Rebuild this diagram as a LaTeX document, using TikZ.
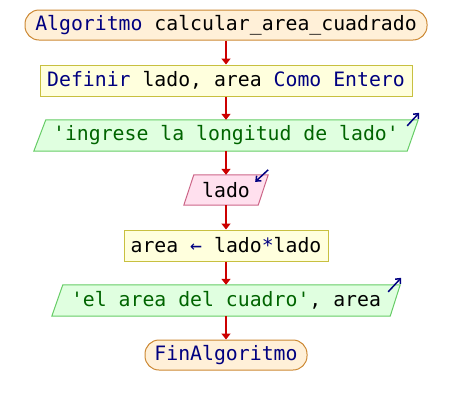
\documentclass[tikz,border=0pt]{standalone}
\usepackage{fontspec}
\newfontfamily\codefont{DejaVu Sans Mono}
\usetikzlibrary{arrows.meta,backgrounds}

\definecolor{kw}{HTML}{000080}
\definecolor{strc}{HTML}{006400}
\definecolor{termfill}{HTML}{FFF0D8}
\definecolor{termline}{HTML}{CC8833}
\definecolor{procfill}{HTML}{FFFFDD}
\definecolor{procline}{HTML}{C8C040}
\definecolor{outfill}{HTML}{E0FFE0}
\definecolor{outline}{HTML}{66CC66}
\definecolor{infill}{HTML}{FFE0EE}
\definecolor{inline}{HTML}{CC6688}
\definecolor{flow}{HTML}{CC0000}

\tikzset{
  base/.style={inner sep=0pt, font=\codefont\fontsize{19.8}{22}\selectfont, anchor=center},
  term/.style={base, rectangle, rounded corners=14pt, draw=termline, fill=termfill, line width=1pt},
  proc/.style={base, rectangle, draw=procline, fill=procfill, line width=1pt},
  iobox/.style={base, rectangle},
  flowarrow/.style={draw=flow, line width=1.8pt, -{Triangle[length=6pt,width=9pt]}},
  ioarrow/.style={draw=kw, line width=1.5pt, -{Straight Barb[length=4pt,width=7pt]}},
  outshape/.style={draw=outline, fill=outfill, line width=1pt},
  inshape/.style={draw=inline, fill=infill, line width=1pt},
}

\begin{document}
\begin{tikzpicture}[x=1pt,y=-1pt]
  \useasboundingbox (0,0) rectangle (452,405);

  % flowchart steps
  \node[term, minimum width=402pt, minimum height=30pt] (n1) at (226,25)
    {\textcolor{kw}{Algoritmo} calcular\_area\_cuadrado};
  \node[proc, minimum width=372pt, minimum height=31pt] (n2) at (226,80.5)
    {\textcolor{kw}{Definir} lado, area \textcolor{kw}{Como Entero}};
  \node[iobox, minimum width=384pt, minimum height=31pt] (n3) at (226,135.5)
    {\textcolor{strc}{'ingrese la longitud de lado'}};
  \node[iobox, minimum width=84pt, minimum height=30pt] (n4) at (226,190)
    {lado};
  \node[proc, minimum width=204pt, minimum height=31pt] (n5) at (226,245.5)
    {area \textcolor{kw}{\symbol{"2190}} lado\textcolor{kw}{*}lado};
  \node[iobox, minimum width=348pt, minimum height=31pt] (n6) at (226,300.5)
    {\textcolor{strc}{'el area del cuadro'}, area};
  \node[term, minimum width=162pt, minimum height=30pt] (n7) at (226,355)
    {\textcolor{kw}{FinAlgoritmo}};

  % parallelogram outlines behind the read/write steps
  \begin{scope}[on background layer]
    \path[outshape] (n3.south west) -- ([xshift=-11pt]n3.south east)
      -- (n3.north east) -- ([xshift=12pt]n3.north west) -- cycle;
    \path[inshape] (n4.south west) -- ([xshift=-10pt]n4.south east)
      -- (n4.north east) -- ([xshift=10pt]n4.north west) -- cycle;
    \path[outshape] (n6.south west) -- ([xshift=-10pt]n6.south east)
      -- (n6.north east) -- ([xshift=11pt]n6.north west) -- cycle;
  \end{scope}

  % flow connectors
  \draw[flowarrow] (n1.south) -- (n2.north);
  \draw[flowarrow] (n2.south) -- (n3.north);
  \draw[flowarrow] (n3.south) -- (n4.north);
  \draw[flowarrow] (n4.south) -- (n5.north);
  \draw[flowarrow] (n5.south) -- (n6.north);
  \draw[flowarrow] (n6.south) -- (n7.north);

  % input / output markers
  \coordinate (o3a) at ([xshift=-11pt,yshift=-6pt]n3.north east);
  \coordinate (o3b) at ([xshift=1pt,yshift=7pt]n3.north east);
  \draw[ioarrow] (o3a) -- (o3b);
  \coordinate (i4a) at ([yshift=5pt]n4.north east);
  \coordinate (i4b) at ([xshift=-13pt,yshift=-7pt]n4.north east);
  \draw[ioarrow] (i4a) -- (i4b);
  \coordinate (o6a) at ([xshift=-12pt,yshift=-7pt]n6.north east);
  \coordinate (o6b) at ([xshift=1pt,yshift=7pt]n6.north east);
  \draw[ioarrow] (o6a) -- (o6b);
\end{tikzpicture}
\end{document}
